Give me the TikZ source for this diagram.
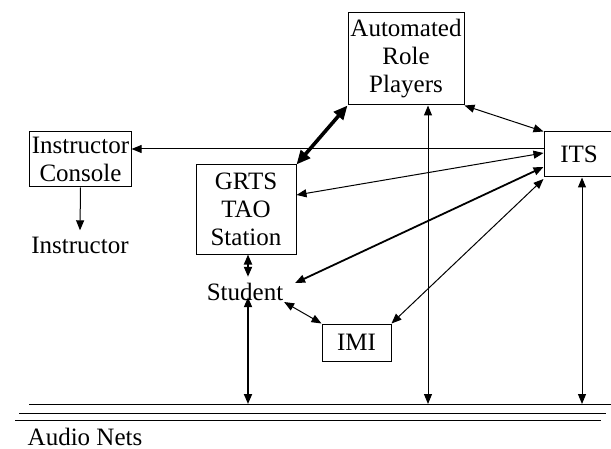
\documentclass[tikz,border=0pt]{standalone}
\usepackage{fontspec}
\setmainfont{Liberation Serif}
\usetikzlibrary{
  calc,
  positioning,
  arrows.meta
}

\tikzset{
  box/.style = {draw, line width=0.5pt, align=center, inner sep=1pt,
    font=\fontsize{12.5}{14}\selectfont},
  lbl/.style = {inner sep=3pt, font=\fontsize{12.5}{14}\selectfont},
  link/.style = {line width=0.5pt},
  heavy/.style = {line width=0.9pt},
  net/.style = {line width=0.5pt}
}

\begin{document}
\begin{tikzpicture}[x=0.5pt, y=-0.5pt,
    >={Triangle[length=5pt,width=4pt]}]
    \useasboundingbox (0,0) rectangle (611,449);

    \node[box,minimum width=58pt,minimum height=46pt] (arp) at (406,59) {Automated\\Role\\Players};
    \node[box,minimum width=35pt,minimum height=22.5pt] (its) at (579,154.5) {ITS};
    \node[box,minimum width=50.5pt,minimum height=27.5pt] (con) at (80.5,159.5) {Instructor\\Console};
    \node[box,minimum width=50pt,minimum height=44.5pt] (grts) at (246,209.5) {GRTS\\TAO\\Station};
    \node[box,minimum width=34.5pt,minimum height=18.5pt] (imi) at (356.5,342.5) {IMI};
    \node[lbl] (ins) at (80,245) {Instructor};
    \node[lbl] (stu) at (245,292) {Student};
    \node[lbl,inner sep=0pt] (aud) at (85,437) {Audio Nets};

    % audio nets
    \coordinate (net) at (0,404);
    \draw[net] (29,404) -- (615,404);
    \draw[net] (19,413) -- (606,413);
    \draw[net] (15,420) -- (601,420);

    \draw[link,->] (con.south) -- (ins.north);
    \draw[link,->] ($(its.west)+(0,-5.5)$) coordinate (c1) -- (c1 -| con.east);
    \draw[<->,line width=1.8pt,>={Triangle[length=7pt,width=6pt]}] (arp.south west) -- (grts.north east);
    \draw[link,<->] (arp.south east) -- (its.north west);
    \draw[link,<->] ($(its.west)+(0,-1.5)$) -- ($(grts.east)+(0,-14.5)$);
    \draw[heavy,<->] ($(its.west)+(0,12.5)$) -- ($(stu.east)+(5.5,-9)$);
    \draw[link,<->] ($(its.west)+(0,24.5)$) -- (imi.north east);
    \draw[link,<->] ($(stu.east)+(-5.5,10)$) -- (imi.north west);
    \draw[heavy,<->] ($(grts.south)+(2,0)$) -- ($(stu.north)+(3,0)$);
    \draw[heavy,<->] ($(stu.south)+(3,-10)$) coordinate (s1) -- (s1 |- net);
    \draw[link,<->] ($(arp.south)+(22,0)$) coordinate (a1) -- (a1 |- net);
    \draw[link,<->] ($(its.south)+(3,0)$) coordinate (i1) -- (i1 |- net);
  \end{tikzpicture}
\end{document}
